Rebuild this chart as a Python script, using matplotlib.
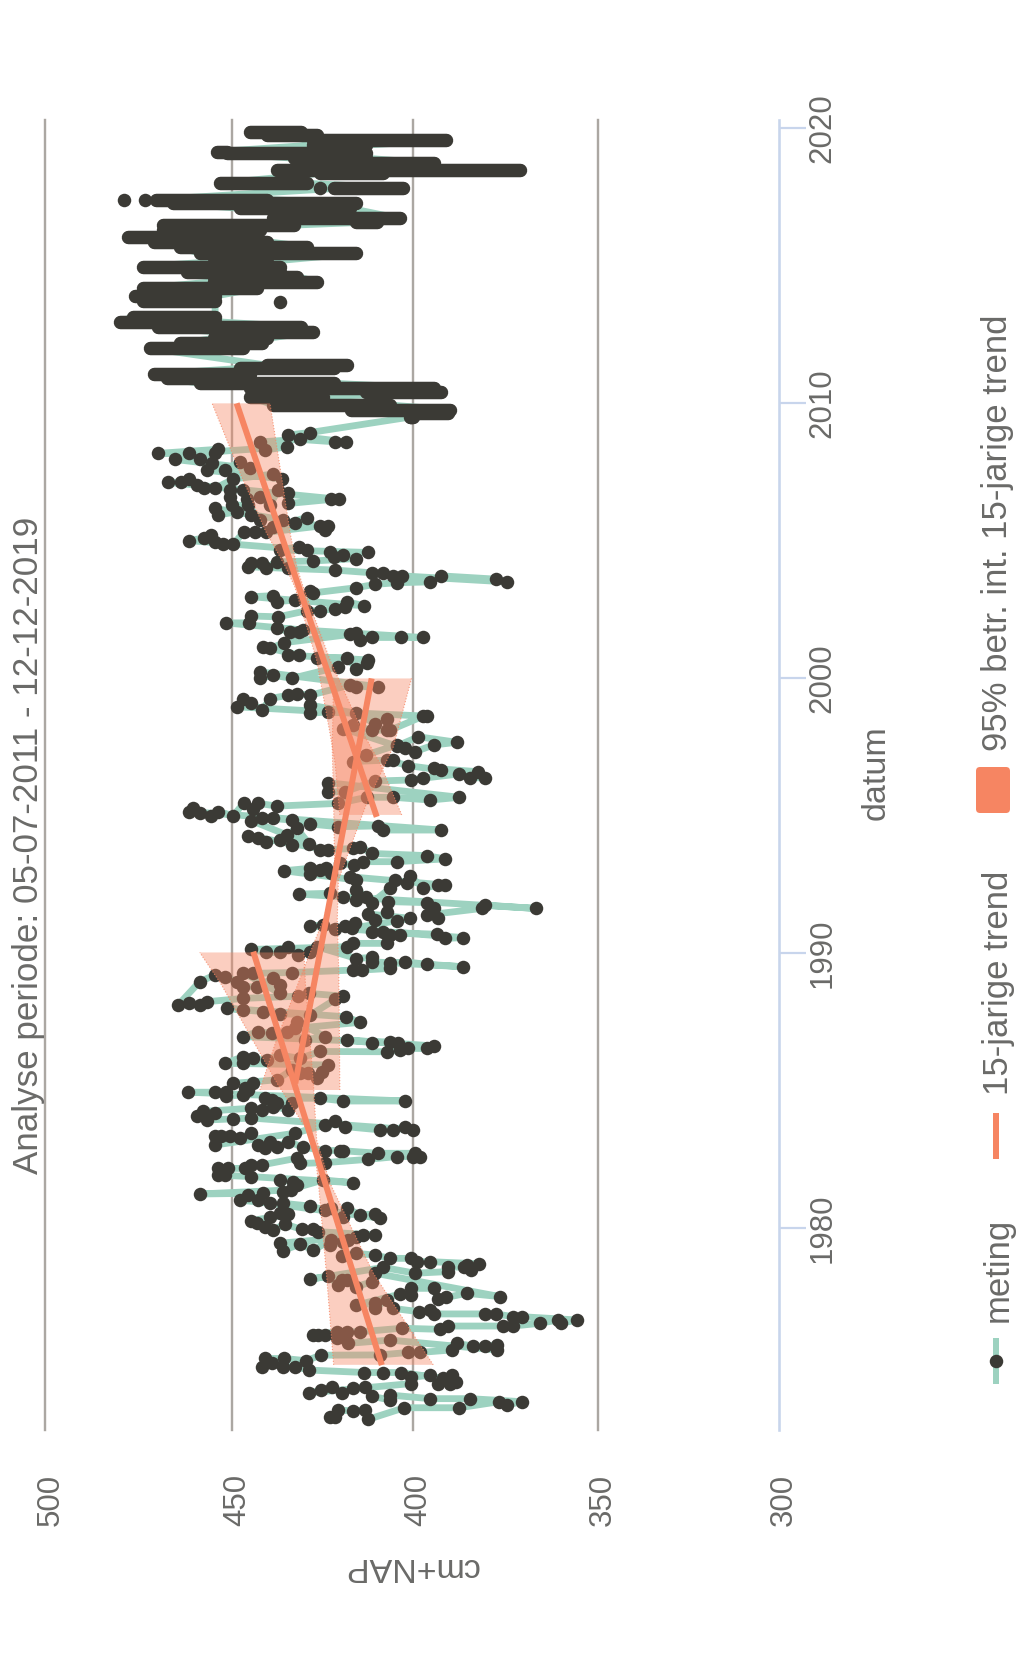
import numpy as np
import matplotlib
matplotlib.use("Agg")
import matplotlib.pyplot as plt
from matplotlib.lines import Line2D
from matplotlib.patches import FancyBboxPatch
from matplotlib.transforms import ScaledTranslation

W, H = 1016, 1654
plt.rcParams['font.family'] = ['Liberation Sans', 'DejaVu Sans']

titel = "Analyse periode: 05-07-2011 - 12-12-2019"
legenda = ["meting", "15-jarige trend", "95% betr. int. 15-jarige trend"]
jaar_ticks = [1980, 1990, 2000, 2010, 2020]
cm_ticks = [500, 450, 400, 350, 300]

jaar_70 = [
 1973.12,1973.12,1973.38,1973.36,1973.38,1973.05,1973.47,1973.47,1973.69,1973.57,
 1973.69,1973.80,1973.80,1973.93,1973.75,1973.89,1974.23,1974.17,1974.01,1974.21,
 1974.11,1974.01,
 1974.35,1974.57,1974.66,1974.35,1974.35,1974.41,1974.66,1974.54,1974.75,1974.75,
 1974.75,1974.84,1974.96,1974.96,1975.08,1974.96,1975.26,1975.26,1975.18,1975.38,
 1975.39,1975.48,1975.48,1975.57,1975.81,1975.71,1975.71,1975.75,1975.57,
 1975.93,1975.81,1975.99,1975.99,1976.11,1976.11,1976.11,1976.23,1976.23,1976.23,
 1976.36,1976.32,1976.44,1976.44,1976.44,1976.54,1976.66,1976.54,1976.66,1976.78,
 1976.78,1976.88,1976.88,1976.88,1977.02,1976.96,1977.08,
 1977.39,1977.08,1977.27,1977.20,
 1977.60,1977.57,1977.81,1977.81,1977.41,1977.48,1977.63,1977.51,
 1978.36,1978.05,1977.87,1978.11,1978.11,1977.93,1978.26,1978.14,
 1978.57,1978.36,1978.42,1978.60,1978.57,1978.48,1978.66,1978.70,1978.78,1978.78,
 1978.90,1978.90,1979.02,1979.08,1978.99,
 1979.57,1979.50,1979.39,1979.57,1979.20,1979.42,1979.18,1979.45,
 1979.69,1979.75,1979.75,
 1979.87,1979.95,1979.95]
cm_70 = [
 423,421.6,420.7,416.6,413.3,412.4,402.5,387.5,376.7,374.7,
 370.6,384.6,395.5,406.4,406.4,411.5,413.3,416.6,419.6,422.5,
 425.6,428.7,
 400.5,400.5,395.5,393.2,390,388.3,389.5,392,403.5,408.5,
 413.5,428.7,432.7,435.9,439.1,441.9,441,435.6,429.6,425.6,
 409.2,401.4,398.2,389.6,388.2,383.7,380.5,377.4,377.4,
 406.4,418,419,421.2,424.4,426.2,427.6,421.2,418.4,414.7,
 403.2,392.8,390.5,375.6,372.9,365.6,360.7,359.8,355.6,370.6,
 372.9,377.6,380.5,394.5,395.4,398.4,405.5,
 407.4,410.6,410.6,415.7,
 403.7,400.5,400.5,394.5,393.2,391,385.5,376.5,
 410.6,411.5,415.7,418.4,419.8,420.7,423.5,428.5,
 408.3,399.5,390.5,390.5,386.2,384.3,385.3,382.1,395.4,399,
 400.5,406.4,410.6,415.7,419.8,
 418,419.3,423,422.6,427.6,431.3,436,436.9,
 415.7,413.8,410.6,
 426.2,427.6,430.8]

jaar_80 = [
 1980.15,1979.93,1980.05,1980.17,1980.27,1980.39,1980.51,1980.56,
 1980.90,1980.80,1980.66,1980.72,1980.42,1980.72,1980.48,1980.51,1980.36,
 1980.90,1981.02,1981.20,1981.02,1981.27,1981.24,1981.39,1981.57,1981.69,1981.75,
 1981.33,1981.75,1981.65,
 1981.87,1981.93,1981.93,1982.17,1982.17,1982.17,1982.30,1982.30,
 1982.54,1982.35,1982.38,1982.50,1982.60,1982.60,1982.60,1982.72,1982.72,
 1982.82,1982.82,1982.82,1982.94,1983.14,1982.96,1983.14,1982.90,1983.02,
 1983.45,1983.26,1983.33,1983.35,1983.33,1983.02,
 1983.45,1983.75,1983.91,1983.69,1983.57,1983.57,1983.69,1983.57,
 1984.00,1983.97,1983.93,1984.08,1984.20,1984.24,1984.36,1984.30,1984.42,
 1984.30,1984.54,1984.54,1984.66,1984.72,1984.72,1984.62,1984.62,
 1984.94,1984.94,1984.96,1984.80,1984.84,1985.08,1985.02,1985.26,1985.26,
 1985.39,1985.75,1985.63,1985.63,1985.45,1985.69,1985.93,
 1985.99,1986.23,1985.99,1986.17,1986.11,1986.29,1986.17,1986.42,
 1986.41,1986.47,1986.53,1986.53,1986.62,
 1986.84,1986.74,1986.77,1986.74,
 1986.96,1987.14,1987.08,1987.14,1986.84,1986.96,
 1987.50,1987.26,1987.48,1987.68,
 1987.99,1987.93,1987.87,1987.80,1987.74,
 1988.31,1988.43,1988.53,1988.43,1988.35,1988.23,1988.11,1988.17,1988.11,
 1988.96,1989.20,1989.14,1988.96,1988.77,1988.77,1989.08,1988.83,1988.53,
 1989.29,1989.26,1989.29,
 1989.38,1989.38,1989.44,1989.62,1989.68,1989.59,1989.50,1989.68,1989.84,1989.80,
 ]
cm_80 = [
 435.5,438.7,441,443.3,444.7,439.6,434.5,436.8,
 435.9,428.5,424.4,422.6,419.3,418.4,414.7,410.6,409.2,
 439.6,448,445.7,443,441.5,458.7,433.9,432.2,433.1,436.8,
 435.9,424.9,416.6,
 444.7,453.8,452,453.8,451.1,446.6,444.7,441.7,
 432.2,431.3,424.4,412.4,404.6,400,398.2,399.5,409.7,
 420.3,419.3,424.4,430.4,434.5,437.7,439.6,441,443,
 444.7,448,450.6,452.9,454.6,454.6,
 432.7,424.4,421.6,418.9,409.2,405.5,402.3,400.2,
 444.7,449.7,456.9,459.5,454.6,457.8,444.7,441.9,438.7,
 434.5,433.6,437.7,439.1,441,425.8,419.3,402.3,
 461.8,454.6,451.7,451.7,447,446.5,445.6,444.2,449.7,
 437.7,433.6,431.3,429,426.7,425.3,423.5,
 452,447,447,444.2,440.5,436.9,431.3,425.8,
 407.4,403.7,401.4,396.4,394.3,
 418.4,411.5,406.4,404.1,
 447,443,439.1,435,429.9,424.4,
 432.2,432.7,414.7,418.6,
 451.5,447,441.5,436.8,428.5,
 421.6,419.3,428.7,431.8,447,456.7,458.7,461.5,464.5,
 458.7,454.6,452,448.8,447,443.3,438.7,436.8,436.8,
 447,444.2,433.6,
 416.6,414.3,406.4,406.4,402.3,396.4,386.4,411.5,411.5,415.7,
 ]

jaar_90 = [
 1990.23,1990.05,1989.93,1990.23,1990.02,1990.02,1990.13,
 1990.23,1990.35,1990.35,1990.65,1990.65,1990.77,1990.77,1990.68,1990.53,1990.56,
 1990.98,1991.02,1990.86,1990.98,1991.10,1990.90,1991.17,1991.26,
 1991.42,1991.20,1991.50,1991.87,1991.83,1991.62,1991.26,1991.38,1991.62,1991.74,1991.62,
 1992.14,1992.17,1992.05,1991.93,1992.29,1992.05,1991.83,1992.35,1992.65,1992.53,
 1992.81,1992.35,1992.47,1992.47,
 1992.77,1992.65,
 1992.99,1993.08,1992.87,1993.02,1993.08,1992.89,1993.26,
 1993.20,1993.32,1993.32,1993.42,1993.54,1993.62,1993.86,1993.80,
 1993.74,1993.74,
 1994.26,1994.17,1994.05,1994.11,1993.92,1994.29,1994.53,1993.96,
 1994.81,1994.89,1994.89,1994.83,1994.69,1994.59,1994.62,1994.47,1994.47,
 1995.14,1995.26,1995.10,1994.99,1995.14,1994.99,
 1995.46,1995.22,1995.44,1995.34,1995.44,
 1995.66,1995.66,1995.56,1995.66,
 1996.19,1995.86,1995.86,1996.25,1996.29,1996.35,1996.51,1996.37,1996.37,1996.59,
 1996.71,1996.65,1996.81,
 1997.02,1997.02,1996.96,1997.20,
 1997.56,1997.44,1997.32,1997.56,1997.66,1997.86,1997.52,
 1998.16,1998.28,1998.10,1998.10,1998.10,
 1998.61,1998.61,1998.77,1998.71,1999.01,1998.52,1998.34,1998.71,
 1998.95,1999.25,1999.07,1998.83,1999.25,
 1999.37,1999.43,1999.37,
 1999.74,1999.68,1999.68,
 ]
cm_90 = [
 426.7,428.5,431.8,434.5,436.8,440.8,444.7,
 418.4,416.6,407.4,406.4,403.7,408.3,411.5,393.5,391.4,386.4,
 428.5,424.9,421.6,418.9,416.1,417,404.6,400.9,
 412.4,410.6,407.4,407,396.4,394.5,393.4,396.4,381.4,380.5,366.8,
 431.6,423,419.3,415.7,415.7,413,411.5,406.4,405,401.8,
 400.9,397.3,393.2,391.4,
 417.5,415.7,
 435.7,428.5,428.5,425.8,424,422.6,420.3,
 416.4,413.8,404.6,391.4,396.4,411.5,414.7,416.6,
 425.8,423.5,
 445.7,442.8,440.8,436.8,433.6,435,432.2,428.7,
 444.7,441.7,438.7,433.6,428.5,420.7,409.7,408.3,392.5,
 461.5,460.6,458.7,455.8,453.8,449.7,
 446.8,444.2,442.8,437.7,420.7,
 412.9,405.5,395.4,387.5,
 423.5,423.5,418.9,410.6,400.5,397.5,387.5,384.6,380.5,382.4,
 394.5,392.5,401.4,
 407.4,405.5,416.6,413,
 404.6,402.3,399.5,394.5,388.2,398.6,404.6,
 419.3,416.6,411.5,407.4,406.4,
 397.3,396.4,423.5,428.5,428.5,407.4,410.6,415.7,
 448.8,447,444.7,441.7,439.6,
 434.5,432.2,428.5,
 417.5,415.7,409.7,
 ]

jaar_00 = [
 2000.22,1999.98,2000.10,1999.98,2000.40,
 2000.71,2000.74,2000.34,2000.53,2000.65,2000.83,2000.83,
 2001.13,2001.07,2001.28,
 2001.58,2001.62,2001.37,2001.47,2001.47,2001.47,
 2001.80,2001.68,2001.68,2001.74,
 2002.00,2002.00,2002.25,2002.22,2002.44,2002.44,2002.52,2002.59,2002.77,2002.62,
 2002.95,2002.99,2002.77,2002.83,2003.17,2003.09,
 2003.28,2003.40,2003.46,2003.49,2003.71,2003.59,2003.49,2003.71,2003.71,2003.82,2003.82,
 2003.92,2003.98,
 2004.04,2004.16,2004.16,2004.00,2004.22,2004.25,
 2004.34,2004.46,2004.40,2004.56,2004.56,
 2004.65,2004.77,2004.65,
 2004.99,2005.09,2005.19,2004.95,2004.86,2004.86,
 2005.31,2005.29,2005.29,
 2005.52,2005.37,2005.52,2005.62,2005.83,2005.49,2005.74,
 2006.16,2005.92,2006.04,2005.92,2005.74,
 2006.28,2006.28,2006.59,2006.83,2006.83,2006.52,2006.59,2006.28,2006.83,2006.71,2006.34,2006.49,2006.49,
 2007.11,2007.11,2007.23,2007.01,2006.89,2006.89,2007.23,2007.41,2007.23,
 2007.55,2007.80,2007.55,2007.86,2007.62,
 2007.94,2007.94,2008.16,2008.31,
 2008.16,2008.16,
 2008.40,2008.28,2008.58,
 2008.67,2008.58,2008.58,2008.83,
 2008.92,2009.49]
cm_00 = [
 442.3,442.3,438.7,433.6,420.7,
 426.7,418.4,415.7,412.9,412.4,434.5,431.6,
 441.4,439.6,435.7,
 417.5,415.7,414.7,411.5,403.4,397.5,
 437.7,434.1,431.6,430.4,
 451.8,445.5,444.7,437.3,429.5,425.8,421.6,418.9,418.4,413.5,
 444.7,438.7,437.7,432.7,428.5,427.6,
 415.7,410.6,404.6,395.4,392.5,377.6,374.6,403.2,405.5,408.5,411.5,
 421.6,434.5,
 445.7,444.7,441.9,440.8,437.7,427.6,
 415.7,419.3,422,423,412.4,
 436.8,431.5,429.5,
 461.5,457.5,455.6,454.6,452.6,449.7,
 446.8,443.8,440.8,
 425.8,424.4,423.5,432.7,429.5,438.7,435.9,
 454.6,453.8,448.8,444.7,442.3,
 445.6,450.2,450.6,450.6,447,446,442.3,439.6,437.3,434.5,434.5,422.6,420.4,
 467.3,463.6,461.5,459.5,457.5,454.6,449.7,438.7,436.4,
 456.7,455.5,452,447.9,445.2,
 465.3,458.7,454.6,453.8,
 470,461.5,
 435,441,442.3,
 431.3,421.6,418.6,434.5,
 428.5,400.5]

# dense daily measurements from 2009 on: the dots merge into strokes
dicht_jaar = [2009.49,2009.64,2009.74,2009.92,2010.22,2010.40,2010.52,2010.71,2010.89,2011.04,
 2011.25,2011.37,2011.98,2012.16,2012.34,2012.58,2012.76,2012.95,2013.13,2013.71,
 2013.88,2014.16,2014.40,2014.58,2014.76,2014.95,2015.13,2015.43,2015.67,2015.86,
 2016.04,2016.28,2016.46,2016.58,2016.70,2017.07,2017.25,2017.39,2017.79,2017.98,
 2018.34,2018.46,2018.70,2018.89,2019.07,2019.13,2019.37,2019.55,2019.73,2019.85]
dicht_hoog = [401,401,417.1,438.7,445,413,445,458.7,467.6,471,
 448,440.5,472,464,455,454.6,470,480,476.5,474,
 476,474,455,455,462,474,455,458.7,464,471,
 478,468.5,468.5,415.7,438.7,447.9,465.8,470.3,422,453.3,
 425.8,437.7,413,433,451.5,454,427.6,427.6,440.5,445]
dicht_laag = [400,390.5,390,406.4,425,392.6,394.5,422,445,445,
 422,418.4,447,441.7,440.5,427.6,431,454.6,454.6,454.6,
 454.6,443.3,426.7,432,436.8,436.8,440.5,415.7,429.4,440.5,
 449.7,442.4,433,410,403.7,417.5,415.7,440.5,402.8,429.5,
 408.3,371,394.5,413,413,451.5,413,391,426.7,431]
# isolated dots within the dense period
los_jaar = [2013.67, 2017.39, 2017.39, 2017.79]
los_cm = [436.9, 479, 473.4, 425.8]

trend_a_jaar = [1975.02, 1990.05]
trend_a_cm = [408.7, 444.2]
trend_b_jaar = [1985.26, 1999.98]
trend_b_cm = [432.6, 411.5]
trend_c_jaar = [1994.95, 2009.98]
trend_c_cm = [410.1, 448.8]

band_a_jaar = [1975.03, 1978.35, 1981.63, 1983.2, 1985.26, 1988.87, 1990.02]
band_a_hoog = [422, 424, 426.2, 427.6, 437.6, 453, 458.7]
band_a_laag = [394.6, 411, 423, 426.7, 427.6, 429.8, 430.2]
band_b_jaar = [1985.02, 1986.84, 1989.38, 1991.2, 1992.65, 1993.62, 1995.44, 1997.5, 1999.98]
band_b_hoog = [442.4, 437.8, 430.4, 424.9, 421.6, 421.8, 422, 422.4, 422]
band_b_laag = [420.3, 420.4, 420.6, 421, 420.7, 418, 412.9, 405.5, 400.5]
band_c_jaar = [1995.02, 1996.89, 1997.98, 2000.65, 2003.3, 2004.04, 2005.25, 2007.31, 2009.98]
band_c_hoog = [420.3, 421.6, 423, 426.7, 432.7, 435.3, 440.5, 447.4, 455.4]
band_c_laag = [403.2, 409.2, 413.8, 423, 430.4, 432.2, 434, 436.4, 439.6]

# figure geometry (pixels)
dpi = 100
px = 72.0 / dpi
ax_l, ax_r, ax_t, ax_b = 45.4, 778.6, 119.5, 1430.0

fig = plt.figure(figsize=(W / dpi, H / dpi), dpi=dpi, facecolor='white')
ax = fig.add_axes([ax_l / W, 1 - ax_b / H, (ax_r - ax_l) / W, (ax_b - ax_t) / H])

GROEN = '#9dd2c0'
DONKER = '#3b3a35'
ORANJE = '#f68562'
GRID = '#aba7a2'
AS = '#c8d5ec'
TEKST = '#6a6a68'
PUNT = 13.5 * px

# the reference axis is not quite even: pixel position of each tick
sc_v = np.array([300.0, 350, 400, 450, 500])
sc_t = -np.array([778.6, 597.5, 413.3, 232.3, 45.4])
ax.set_xscale('function', functions=(lambda v: np.interp(v, sc_v, sc_t),
                                     lambda t: np.interp(t, sc_t, sc_v)))
ax.set_xlim(500, 300)
yr_top = 2020 + (127.7 - ax_t) / 27.51
yr_bot = 2020 - (ax_b - 127.7) / 27.51
ax.set_ylim(yr_bot, yr_top)

for v in cm_ticks[:-1]:
    ax.axvline(v, color=GRID, lw=2.4 * px, zorder=1, clip_on=False)

jaar = jaar_70 + jaar_80 + jaar_90 + jaar_00
cm = cm_70 + cm_80 + cm_90 + cm_00
assert len(jaar) == len(cm), (len(jaar), len(cm))

# line through sparse period and stroke ends
lijn_j, lijn_c = list(jaar), list(cm)
for i, (j, h, l) in enumerate(zip(dicht_jaar, dicht_hoog, dicht_laag)):
    if i % 2:
        lijn_j += [j, j]; lijn_c += [l, h]
    else:
        lijn_j += [j, j]; lijn_c += [h, l]
ax.plot(lijn_c, lijn_j, color=GROEN, lw=6.8 * px, zorder=2, solid_joinstyle='round')
ax.plot(cm, jaar, ls='none', marker='o', ms=PUNT, mfc=DONKER, mec=DONKER, mew=0, zorder=3)
ax.plot(los_cm, los_jaar, ls='none', marker='o', ms=PUNT, mfc=DONKER, mec=DONKER, mew=0, zorder=3)
ax.hlines(dicht_jaar, dicht_laag, dicht_hoog, colors=DONKER, lw=PUNT, zorder=3, capstyle='round')

for bj, bh, bl in [(band_a_jaar, band_a_hoog, band_a_laag),
                   (band_b_jaar, band_b_hoog, band_b_laag),
                   (band_c_jaar, band_c_hoog, band_c_laag)]:
    ax.fill_betweenx(bj, bl, bh, facecolor=ORANJE, alpha=0.4, lw=0, zorder=4)
    ax.plot(bh, bj, color=ORANJE, lw=0.8, ls=':', alpha=0.8, zorder=4)
    ax.plot(bl, bj, color=ORANJE, lw=0.8, ls=':', alpha=0.8, zorder=4)

for tc, tj in [(trend_a_cm, trend_a_jaar), (trend_b_cm, trend_b_jaar), (trend_c_cm, trend_c_jaar)]:
    ax.plot(tc, tj, color=ORANJE, lw=6 * px, zorder=5, solid_capstyle='butt')

for s in ['top', 'left', 'bottom']:
    ax.spines[s].set_visible(False)
ax.spines['right'].set_color(AS)
ax.spines['right'].set_linewidth(2.6 * px)
ax.yaxis.tick_right()
ax.set_yticks(jaar_ticks)
ax.set_yticklabels([str(j) for j in jaar_ticks], rotation=90, va='center', fontsize=22.5, color=TEKST)
ax.tick_params(axis='y', which='major', length=27 * px, width=2.2 * px, color=AS, pad=1.5)
ax.set_xticks(cm_ticks)
ax.set_xticklabels([str(c) for c in cm_ticks], rotation=90, ha='center', fontsize=22.5, color=TEKST)
ax.tick_params(axis='x', which='major', length=0, pad=44 * px)
ax.minorticks_off()
schuif = ScaledTranslation(5 / dpi, 0, fig.dpi_scale_trans)
for lab in ax.get_xticklabels():
    lab.set_transform(lab.get_transform() + schuif)
ax.patch.set_alpha(0)


def fx(x):
    return x / W


def fy(y):
    return 1 - y / H


def rt(x, y, s, rot=90, size=25):
    fig.text(fx(x), fy(y), s, rotation=rot, ha='center', va='center', fontsize=size, color=TEKST)


rt(29, 845.6, titel, size=25.2)
rt(876, 773, "datum", size=24.5)
rt(411.5, 1566, "cm+NAP", rot=180, size=24.5)
rt(998.5, 1270, legenda[0])
rt(998.5, 983, legenda[1])
rt(998, 533, legenda[2])

fig.add_artist(Line2D([fx(996), fx(996)], [fy(1337.7), fy(1384)], color=GROEN, lw=6 * px, solid_capstyle='butt'))
fig.add_artist(Line2D([fx(996)], [fy(1361)], ls='none', marker='o', ms=PUNT, mfc=DONKER, mew=0))
fig.add_artist(Line2D([fx(996), fx(996)], [fy(1112.7), fy(1159)], color=ORANJE, lw=6 * px, solid_capstyle='butt'))
fig.add_artist(FancyBboxPatch((979, H - 810), 28, 40, boxstyle='round,pad=3,rounding_size=4',
                              transform=None, facecolor=ORANJE, edgecolor='none'))

fig.savefig('out.png', dpi=dpi, facecolor='white')
